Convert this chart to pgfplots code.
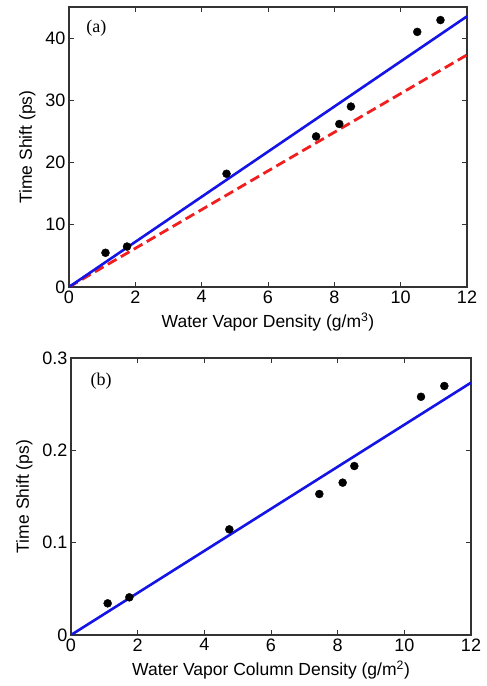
\documentclass[border=0pt]{standalone}
\usepackage{fontspec}
\setmainfont{Liberation Sans}
\newfontfamily\serifont{Liberation Serif}
\usepackage{pgfplots}
\pgfplotsset{compat=1.18}
\definecolor{mblue}{RGB}{20,20,230}
\definecolor{mred}{RGB}{240,30,30}
\pgfplotsset{
  mystyle/.style={
    scale only axis,
    xmin=0, xmax=12,
    xtick={0,2,4,6,8,10,12},
    tick align=inside,
    major tick length=5pt,
    axis line style={line width=1.1pt, black!80},
    every tick/.style={line width=1pt, black!80},
    ticklabel style={font=\fontsize{18}{21}\selectfont},
    label style={font=\fontsize{17.5}{20}\selectfont},
    /pgf/number format/assume math mode=true,
    xlabel style={yshift=-3pt},
    ylabel style={yshift=3pt},
    clip=true,
  }
}
\begin{document}
\begin{tikzpicture}
\useasboundingbox (0pt,0pt) rectangle (487pt,686pt);
\begin{axis}[mystyle,
  at={(69pt,399pt)}, anchor=south west,
  width=398pt, height=280pt,
  ymin=0, ymax=45, ytick={0,10,20,30,40},
  xlabel={Water Vapor Density (g/m\textsuperscript{3})},
  ylabel={Time Shift (ps)},
]
\addplot[mred, line width=2.8pt, dash pattern=on 10pt off 5pt] coordinates {(0,0) (12,37.3)};
\addplot[mblue, line width=2.6pt] coordinates {(0,0) (12,43.5)};
\addplot[only marks, mark=*, mark size=4pt, black] coordinates {
(1.1,5.5) (1.75,6.5) (4.75,18.2) (7.45,24.2) (8.15,26.2) (8.5,29) (10.5,41) (11.2,42.9)};
\node[anchor=west, font=\serifont\fontsize{18}{20}\selectfont] at (rel axis cs:0.035,0.925) {(a)};
\end{axis}
\begin{axis}[mystyle,
  at={(71pt,51pt)}, anchor=south west,
  width=400pt, height=277pt,
  ymin=0, ymax=0.3, ytick={0,0.1,0.2,0.3},
  yticklabel style={/pgf/number format/fixed},
  xlabel={Water Vapor Column Density (g/m\textsuperscript{2})},
  ylabel={Time Shift (ps)},
]
\addplot[mblue, line width=2.6pt] coordinates {(0,0) (12,0.2733)};
\addplot[only marks, mark=*, mark size=4pt, black] coordinates {
(1.1,0.0343) (1.75,0.0408) (4.75,0.1144) (7.45,0.1527) (8.15,0.165) (8.5,0.183) (10.5,0.258) (11.2,0.2697)};
\node[anchor=west, font=\serifont\fontsize{18}{20}\selectfont] at (rel axis cs:0.04,0.915) {(b)};
\end{axis}
\end{tikzpicture}
\end{document}
